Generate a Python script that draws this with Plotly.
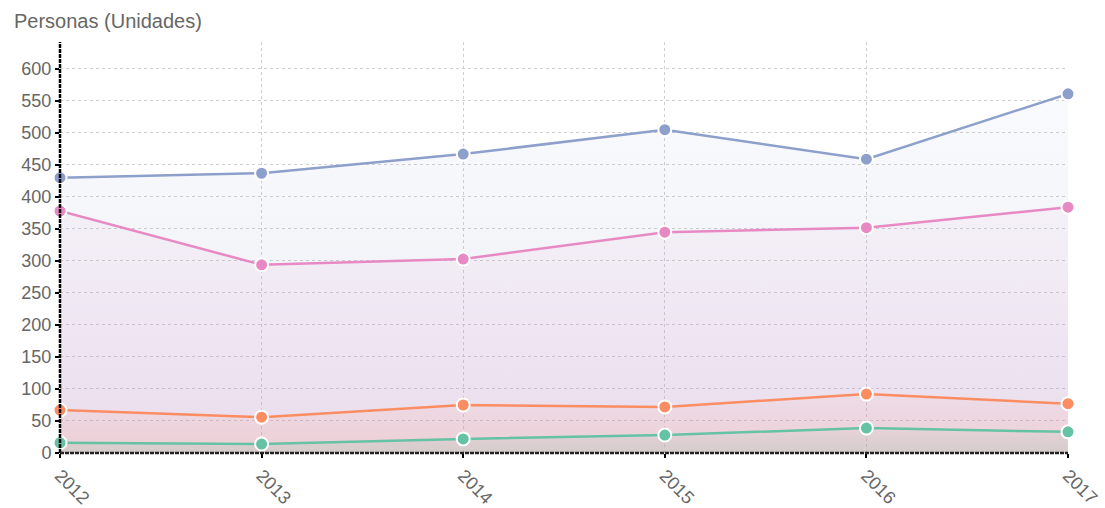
import plotly.graph_objects as go

years = [2012, 2013, 2014, 2015, 2016, 2017]
serie_azul = [430, 437, 467, 505, 459, 561]
serie_rosa = [378, 294, 303, 345, 352, 384]
serie_naranja = [67, 56, 75, 72, 92, 77]
serie_verde = [16, 14, 22, 28, 39, 33]

y_ticks = [0, 50, 100, 150, 200, 250, 300, 350, 400, 450, 500, 550, 600]

series = [
    (serie_azul, (141, 160, 203)),
    (serie_rosa, (231, 138, 195)),
    (serie_naranja, (252, 141, 98)),
    (serie_verde, (102, 194, 165)),
]

fig = go.Figure()
for values, (r, g, b) in series:
    fig.add_trace(go.Scatter(
        x=years, y=values, mode="lines+markers",
        line=dict(color=f"rgb({r},{g},{b})", width=2.5),
        marker=dict(size=13, color=f"rgb({r},{g},{b})",
                    line=dict(color="white", width=2)),
        fill="tozeroy",
        fillgradient=dict(
            type="vertical",
            colorscale=[[0, f"rgba({r},{g},{b},0.18)"],
                        [1, f"rgba({r},{g},{b},0.05)"]],
            start=0, stop=max(values),
        ),
        cliponaxis=False,
        showlegend=False,
        hoverinfo="x+y",
    ))

font_color = "#666666"
fig.update_layout(
    width=1105, height=508,
    margin=dict(l=60, r=37, t=42, b=55),
    paper_bgcolor="white", plot_bgcolor="white",
    font=dict(family="Liberation Sans, Arial, sans-serif", size=18, color=font_color),
    xaxis=dict(
        range=[2012, 2017], tickmode="array", tickvals=years,
        ticktext=[str(y) for y in years], tickangle=45,
        showgrid=True, gridcolor="#cfcfcf", griddash="dot", gridwidth=1,
        zeroline=False, showline=False, automargin=False,
        ticks="outside", ticklen=4, tickcolor="black", tickwidth=2,
        tickfont=dict(size=18, color=font_color),
    ),
    yaxis=dict(
        range=[0, 642], tickmode="array", tickvals=y_ticks,
        showgrid=True, gridcolor="#cfcfcf", griddash="dot", gridwidth=1,
        zeroline=False, showline=False, automargin=False,
        ticks="outside", ticklen=4, tickcolor="black", tickwidth=2,
        tickfont=dict(size=18, color=font_color),
    ),
    annotations=[dict(
        text="Personas (Unidades)", xref="paper", yref="paper",
        x=-0.048, y=1.0, xanchor="left", yanchor="bottom", yshift=8,
        showarrow=False, font=dict(size=20, color=font_color),
    )],
    shapes=[
        dict(type="line", xref="paper", yref="paper", x0=0, x1=0, y0=0, y1=1,
             line=dict(color="black", width=2.5, dash="4px,1px"), layer="above"),
        dict(type="line", xref="paper", yref="paper", x0=0, x1=1, y0=0, y1=0,
             line=dict(color="#222222", width=2.5, dash="4px,1px"), layer="above"),
    ],
)

fig.write_html("out.html")
